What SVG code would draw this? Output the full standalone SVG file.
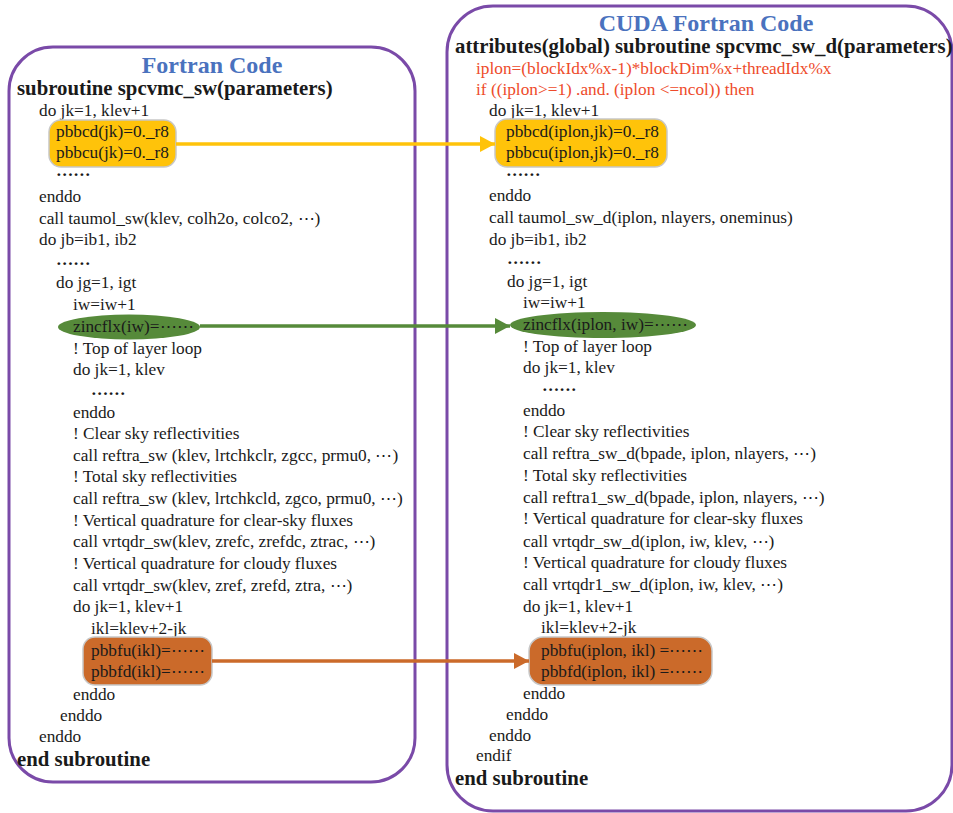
<svg xmlns="http://www.w3.org/2000/svg" width="953" height="813" viewBox="0 0 953 813">
  <style>
    .panel { fill: #ffffff; stroke: #7A4AA8; stroke-width: 3; }
    .title { font-family: "Liberation Serif", "DejaVu Serif", serif; font-size: 24px; font-weight: bold; fill: #4A72BE; text-anchor: middle; }
    .head { font-family: "Liberation Serif", "DejaVu Serif", serif; font-size: 20.8px; font-weight: bold; fill: #1a1a1a; }
    .code { font-family: "Liberation Serif", "DejaVu Serif", serif; font-size: 17.3px; fill: #1a1a1a; }
    .dots { font-weight: bold; }
    .red { fill: #EE4B2B; }
    .hl { stroke: #C8C8C8; stroke-width: 1.5; }
    .yellow { fill: #FFC30A; }
    .green { fill: #568A3A; }
    .orange { fill: #CB6A2A; }
    .link { fill: none; stroke-width: 3.5; }
  </style>
  <defs>
    <marker id="ah-yellow" viewBox="0 0 15 16" refX="15" refY="8" markerWidth="15" markerHeight="16" markerUnits="userSpaceOnUse" orient="auto">
      <path d="M0,0 L15,8 L0,16 z" fill="#FFC30A"/>
    </marker>
    <marker id="ah-green" viewBox="0 0 15 16" refX="15" refY="8" markerWidth="15" markerHeight="16" markerUnits="userSpaceOnUse" orient="auto">
      <path d="M0,0 L15,8 L0,16 z" fill="#568A3A"/>
    </marker>
    <marker id="ah-orange" viewBox="0 0 15 16" refX="15" refY="8" markerWidth="15" markerHeight="16" markerUnits="userSpaceOnUse" orient="auto">
      <path d="M0,0 L15,8 L0,16 z" fill="#CB6A2A"/>
    </marker>
  </defs>

  <!-- Left panel: plain Fortran -->
  <g id="fortran-panel">
    <rect class="panel" x="9" y="47" width="406" height="735" rx="44" ry="44"/>
    <text class="title" x="212" y="73">Fortran Code</text>
    <text class="head" x="17" y="95">subroutine spcvmc_sw(parameters)</text>
    <g class="code">
      <text x="39" y="116">do jk=1, klev+1</text>
      <text class="dots" x="56" y="176">……</text>
      <text x="39" y="202">enddo</text>
      <text x="39" y="224">call taumol_sw(klev, colh2o, colco2, ⋯)</text>
      <text x="39" y="245">do jb=ib1, ib2</text>
      <text class="dots" x="56" y="265">……</text>
      <text x="56" y="288">do jg=1, igt</text>
      <text x="73" y="310">iw=iw+1</text>
      <text x="73" y="354">! Top of layer loop</text>
      <text x="73" y="375">do jk=1, klev</text>
      <text class="dots" x="91" y="395">……</text>
      <text x="73" y="418">enddo</text>
      <text x="73" y="439">! Clear sky reflectivities</text>
      <text x="73" y="461">call reftra_sw (klev, lrtchkclr, zgcc, prmu0, ⋯)</text>
      <text x="73" y="482">! Total sky reflectivities</text>
      <text x="73" y="504">call reftra_sw (klev, lrtchkcld, zgco, prmu0, ⋯)</text>
      <text x="73" y="526">! Vertical quadrature for clear-sky fluxes</text>
      <text x="73" y="547">call vrtqdr_sw(klev, zrefc, zrefdc, ztrac, ⋯)</text>
      <text x="73" y="569">! Vertical quadrature for cloudy fluxes</text>
      <text x="73" y="591">call vrtqdr_sw(klev, zref, zrefd, ztra, ⋯)</text>
      <text x="73" y="612">do jk=1, klev+1</text>
      <text x="91" y="634">ikl=klev+2-jk</text>
      <text x="73" y="700">enddo</text>
      <text x="60" y="721">enddo</text>
      <text x="39" y="742">enddo</text>
    </g>
    <text class="head" x="17" y="766">end subroutine</text>
  </g>

  <!-- Right panel: CUDA Fortran kernel -->
  <g id="cuda-panel">
    <rect class="panel" x="447" y="6" width="505" height="805" rx="46" ry="46"/>
    <text class="title" x="706" y="31">CUDA Fortran Code</text>
    <text class="head" x="455" y="53">attributes(global) subroutine spcvmc_sw_d(parameters)</text>
    <g class="code">
      <text class="red" x="476" y="74">iplon=(blockIdx%x-1)*blockDim%x+threadIdx%x</text>
      <text class="red" x="476" y="95">if ((iplon&gt;=1) .and. (iplon &lt;=ncol)) then</text>
      <text x="489" y="116">do jk=1, klev+1</text>
      <text class="dots" x="506" y="176">……</text>
      <text x="489" y="201">enddo</text>
      <text x="489" y="223">call taumol_sw_d(iplon, nlayers, oneminus)</text>
      <text x="489" y="245">do jb=ib1, ib2</text>
      <text class="dots" x="507" y="264">……</text>
      <text x="507" y="287">do jg=1, igt</text>
      <text x="523" y="308">iw=iw+1</text>
      <text x="523" y="352">! Top of layer loop</text>
      <text x="523" y="373">do jk=1, klev</text>
      <text class="dots" x="542" y="391">……</text>
      <text x="523" y="416">enddo</text>
      <text x="523" y="437">! Clear sky reflectivities</text>
      <text x="523" y="459">call reftra_sw_d(bpade, iplon, nlayers, ⋯)</text>
      <text x="523" y="481">! Total sky reflectivities</text>
      <text x="523" y="503">call reftra1_sw_d(bpade, iplon, nlayers, ⋯)</text>
      <text x="523" y="524">! Vertical quadrature for clear-sky fluxes</text>
      <text x="523" y="547">call vrtqdr_sw_d(iplon, iw, klev, ⋯)</text>
      <text x="523" y="568">! Vertical quadrature for cloudy fluxes</text>
      <text x="523" y="590">call vrtqdr1_sw_d(iplon, iw, klev, ⋯)</text>
      <text x="523" y="612">do jk=1, klev+1</text>
      <text x="541" y="633">ikl=klev+2-jk</text>
      <text x="523" y="699">enddo</text>
      <text x="506" y="720">enddo</text>
      <text x="489" y="741">enddo</text>
      <text x="476" y="761">endif</text>
    </g>
    <text class="head" x="455" y="785">end subroutine</text>
  </g>

  <!-- Highlighted statements, left -->
  <g id="init-left">
    <rect class="hl yellow" x="49" y="120" width="127" height="47" rx="12"/>
    <text class="code" x="56" y="137">pbbcd(jk)=0._r8</text>
    <text class="code" x="56" y="158">pbbcu(jk)=0._r8</text>
  </g>
  <g id="flux-left">
    <ellipse class="green" cx="129" cy="327" rx="71" ry="12.5"/>
    <text class="code" x="73" y="332">zincflx(iw)=⋯⋯</text>
  </g>
  <g id="store-left">
    <rect class="hl orange" x="83" y="637" width="129" height="48" rx="12"/>
    <text class="code" x="91" y="656">pbbfu(ikl)=⋯⋯</text>
    <text class="code" x="91" y="677">pbbfd(ikl)=⋯⋯</text>
  </g>

  <!-- Highlighted statements, right -->
  <g id="init-right">
    <rect class="hl yellow" x="495" y="119" width="172" height="48" rx="12"/>
    <text class="code" x="506" y="137">pbbcd(iplon,jk)=0._r8</text>
    <text class="code" x="506" y="158">pbbcu(iplon,jk)=0._r8</text>
  </g>
  <g id="flux-right">
    <ellipse class="green" cx="603" cy="325" rx="93" ry="13"/>
    <text class="code" x="523" y="330">zincflx(iplon, iw)=⋯⋯</text>
  </g>
  <g id="store-right">
    <rect class="hl orange" x="529" y="637" width="183" height="48" rx="14"/>
    <text class="code" x="541" y="656">pbbfu(iplon, ikl) =⋯⋯</text>
    <text class="code" x="541" y="677">pbbfd(iplon, ikl) =⋯⋯</text>
  </g>

  <!-- Connectors between corresponding statements -->
  <g id="connectors">
    <line class="link" x1="176" y1="144" x2="495" y2="144" stroke="#FFC30A" marker-end="url(#ah-yellow)"/>
    <line class="link" x1="200" y1="326" x2="510" y2="326" stroke="#568A3A" marker-end="url(#ah-green)"/>
    <line class="link" x1="212" y1="661" x2="529" y2="661" stroke="#CB6A2A" marker-end="url(#ah-orange)"/>
  </g>
</svg>
